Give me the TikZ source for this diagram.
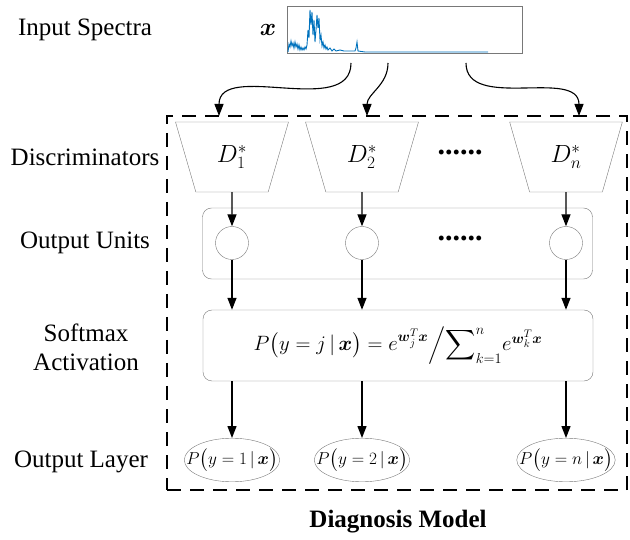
\documentclass[tikz,border=0pt]{standalone}
\usepackage{fontspec}
\setmainfont{Liberation Serif}
\usepackage{amsmath, amssymb}
\usepackage{tikz}
\usetikzlibrary{shapes.geometric, arrows.meta, positioning}
\definecolor{specblue}{RGB}{0,114,189}
\definecolor{edgegray}{RGB}{120,120,120}

\begin{document}
\begin{tikzpicture}[x=1pt, y=-1pt,
    lbl/.style={font=\fontsize{25}{29}\selectfont, align=center},
    disc/.style={draw=edgegray, trapezium, shape border rotate=180, trapezium angle=70, minimum width=113pt, minimum height=70pt, trapezium stretches=true, inner sep=0pt, font=\fontsize{25}{29}\selectfont},
    unit/.style={draw=edgegray, circle, minimum size=33pt, inner sep=0pt},
    panel/.style={draw=edgegray, rounded corners=9pt, minimum width=390pt, minimum height=71pt, inner sep=0pt},
    outp/.style={draw=edgegray, ellipse, inner xsep=-12pt, inner ysep=4pt, font=\fontsize{19}{23}\selectfont},
    dots/.style={font=\bfseries\fontsize{30}{30}\selectfont, inner sep=0pt},
    arrow/.style={-{Triangle[length=12pt,width=9pt]}, line width=1.3pt}
]
\useasboundingbox (0,0) rectangle (630,540);

% Input
\node[lbl] (inlbl) at (85,30) {Input Spectra};
\node[font=\fontsize{25}{29}\selectfont] (xvar) at (268,30) {$\boldsymbol{x}$};
\node[draw=edgegray, minimum width=235pt, minimum height=47pt, inner sep=0pt] (spec) at (404.5,29.5) {};
\draw[specblue, line width=0.9pt] plot coordinates {(288,52) (289,44) (290,47) (291,41) (292,46) (293,43) (294,48) (295,42) (296,47) (297,44) (298,49) (299,45) (300,50) (301,47) (302,50) (303,48) (304,50) (305,47) (306,49) (307,45) (308,30) (309,38) (310,10) (311,25) (312,12) (313,35) (314,20) (315,42) (316,30) (317,15) (318,28) (319,18) (320,40) (321,35) (322,46) (323,42) (324,48) (325,45) (326,49) (327,47) (328,50) (330,48) (332,51) (334,49) (336,51) (340,50) (344,51) (350,51) (355,51) (356,48) (357,42) (358,51) (365,52) (488,52)};

% Diagnosis model frame
\node[draw, dashed, dash pattern=on 14pt off 9pt, line width=2.2pt, minimum width=460pt, minimum height=374pt, inner sep=0pt] (model) at (397,303) {};
\node[font=\bfseries\fontsize{25}{29}\selectfont] (title) at (398,522) {Diagnosis Model};

% Discriminators
\node[lbl] (disclbl) at (85,157) {Discriminators};
\node[disc] (d1) at (232,157) {$D_1^*$};
\node[disc] (d2) at (362,157) {$D_2^*$};
\node[disc] (dn) at (566,157) {$D_n^*$};
\node[dots] (ddots) at (460,152) {......};

% Output units
\node[lbl] (unitlbl) at (85,243) {Output Units};
\node[panel] (unitbox) at (397.5,243.5) {};
\node[unit] (u1) at (232,243) {};
\node[unit] (u2) at (362,243) {};
\node[unit] (un) at (566,243) {};
\node[dots] (udots) at (460,238) {......};

% Softmax
\node[lbl] (softlbl) at (86,347) {Softmax\\Activation};
\node[panel, font=\fontsize{21}{25}\selectfont] (soft) at (398,345.5) {$P\big(y=j\,|\,\boldsymbol{x}\big)=e^{\boldsymbol{w}_j^T\boldsymbol{x}}\Big/{\displaystyle\sum\nolimits_{k=1}^{n}} e^{\boldsymbol{w}_k^T\boldsymbol{x}}$};

% Output layer
\node[lbl] (outlbl) at (81,462) {Output Layer};
\node[outp] (o1) at (232,460) {$P\big(y=1\,|\,\boldsymbol{x}\big)$};
\node[outp] (o2) at (362,460) {$P\big(y=2\,|\,\boldsymbol{x}\big)$};
\node[outp] (on) at (566,460) {$P\big(y=n\,|\,\boldsymbol{x}\big)$};

% Spectrum to discriminators
\coordinate (s1) at (351,63);
\coordinate (s2) at (388,63);
\coordinate (s3) at (466,63);
\coordinate (t1) at (219,116);
\coordinate (t2) at (367,116);
\coordinate (t3) at (579,116);
\draw[arrow, line width=1.1pt] (s1) to[out=-90, in=90] (t1);
\draw[arrow, line width=1.1pt] (s2) to[out=-90, in=90] (t2);
\draw[arrow, line width=1.1pt] (s3) to[out=-90, in=90] (t3);

% Arrows
\draw[arrow] (d1.south) -- (u1.north);
\draw[arrow] (d2.south) -- (u2.north);
\draw[arrow] (dn.south) -- (un.north);
\draw[arrow] (u1.south) -- (u1.south |- soft.north);
\draw[arrow] (u2.south) -- (u2.south |- soft.north);
\draw[arrow] (un.south) -- (un.south |- soft.north);
\draw[arrow] (o1.north |- soft.south) -- (o1.north);
\draw[arrow] (o2.north |- soft.south) -- (o2.north);
\draw[arrow] (on.north |- soft.south) -- (on.north);

\end{tikzpicture}
\end{document}
